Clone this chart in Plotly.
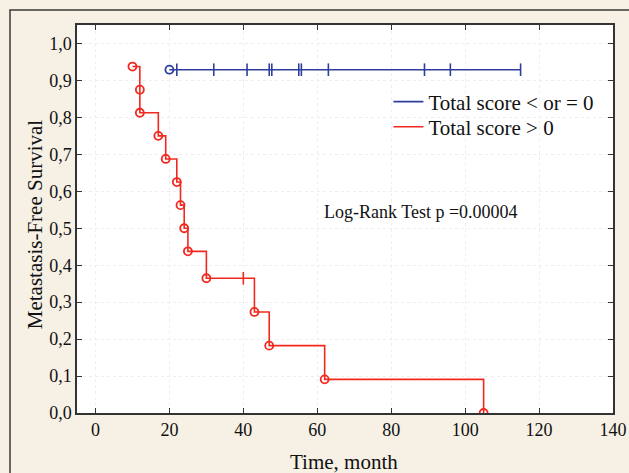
import plotly.graph_objects as go

# Red group (Total score > 0): step curve
red_t = [10, 12, 12, 17, 19, 22, 23, 24, 25, 30, 40, 43, 47, 62, 105]
red_s = [0.9375, 0.875, 0.8125, 0.75, 0.6875, 0.625, 0.5625, 0.5, 0.4375, 0.3646, 0.3646, 0.2734, 0.1823, 0.0911, 0.0]
red_event_t = [10, 12, 12, 17, 19, 22, 23, 24, 25, 30, 43, 47, 62, 105]
red_event_s = [0.9375, 0.875, 0.8125, 0.75, 0.6875, 0.625, 0.5625, 0.5, 0.4375, 0.3646, 0.2734, 0.1823, 0.0911, 0.0]
red_cens_t = [40]
red_cens_s = [0.3646]

# Blue group (Total score < or = 0)
blue_t = [20, 115]
blue_s = [0.929, 0.929]
blue_event_t = [20]
blue_event_s = [0.929]
blue_cens_t = [22, 32, 41, 47, 47.7, 55, 55.7, 63, 89, 96, 115]
blue_cens_s = [0.929] * len(blue_cens_t)

x_ticks = [0, 20, 40, 60, 80, 100, 120, 140]
y_ticks = [0.0, 0.1, 0.2, 0.3, 0.4, 0.5, 0.6, 0.7, 0.8, 0.9, 1.0]
y_ticktext = ["0,0", "0,1", "0,2", "0,3", "0,4", "0,5", "0,6", "0,7", "0,8", "0,9", "1,0"]

BLUE = "#2d3e9c"
RED = "#f2281f"
FONT = "Liberation Serif"

fig = go.Figure()

fig.add_trace(go.Scatter(x=blue_t, y=blue_s, mode="lines", line=dict(color=BLUE, width=1.6, shape="hv"),
                         name="Total score < or = 0", showlegend=True, legend="legend"))
fig.add_trace(go.Scatter(x=red_t, y=red_s, mode="lines", line=dict(color=RED, width=1.6, shape="hv"),
                         name="Total score > 0", showlegend=True, legend="legend2"))
fig.add_trace(go.Scatter(x=blue_event_t, y=blue_event_s, mode="markers",
                         marker=dict(symbol="circle-open", size=8, color=BLUE, line=dict(width=1.8)),
                         showlegend=False))
fig.add_trace(go.Scatter(x=blue_cens_t, y=blue_cens_s, mode="markers",
                         marker=dict(symbol="line-ns", size=9, color=BLUE, line=dict(width=1.6, color=BLUE)),
                         showlegend=False))
fig.add_trace(go.Scatter(x=red_event_t, y=red_event_s, mode="markers",
                         marker=dict(symbol="circle-open", size=8, color=RED, line=dict(width=1.8)),
                         showlegend=False))
fig.add_trace(go.Scatter(x=red_cens_t, y=red_cens_s, mode="markers",
                         marker=dict(symbol="line-ns", size=9, color=RED, line=dict(width=1.6, color=RED)),
                         showlegend=False))

fig.add_annotation(x=61.4, y=0.543, xref="x", yref="y", text="Log-Rank Test p =0.00004",
                   showarrow=False, xanchor="left", yanchor="middle",
                   font=dict(family=FONT, size=18, color="#111"))

# axis titles
fig.add_annotation(x=0.498, y=-0.126, xref="paper", yref="paper", text="Time, month",
                   showarrow=False, xanchor="center", yanchor="middle",
                   font=dict(family=FONT, size=21, color="#111"))
fig.add_annotation(x=-0.078, y=0.487, xref="paper", yref="paper", text="Metastasis-Free Survival",
                   showarrow=False, xanchor="center", yanchor="middle", textangle=-90,
                   font=dict(family=FONT, size=21, color="#111"))

# outer frame
fig.add_shape(type="rect", xref="paper", yref="paper", x0=-0.125, x1=1.2, y0=-0.3, y1=1.0387,
              line=dict(color="#3a3a3a", width=1.5), fillcolor="rgba(0,0,0,0)", layer="below")

axis_common = dict(showline=True, linecolor="#333", linewidth=1.5, mirror="ticks",
                   ticks="inside", ticklen=5, tickcolor="#333", tickwidth=1,
                   showgrid=True, gridcolor="#eeeeee", griddash="dot", gridwidth=1,
                   zeroline=False, automargin=False,
                   tickfont=dict(family=FONT, size=18, color="#111"))

fig.update_xaxes(range=[-5, 140], tickvals=x_ticks, ticktext=[str(v) for v in x_ticks], **axis_common)
fig.update_yaxes(range=[0, 1.05], tickvals=y_ticks, ticktext=y_ticktext, **axis_common)

leg_common = dict(xanchor="left", yanchor="middle", bgcolor="rgba(0,0,0,0)",
                  font=dict(family=FONT, size=21, color="#111"), itemwidth=30)

fig.update_layout(
    width=629, height=473,
    margin=dict(l=77, r=16, t=25, b=60),
    paper_bgcolor="#f6f0e5", plot_bgcolor="#ffffff",
    showlegend=True,
    legend=dict(x=0.581, y=0.8015, **leg_common),
    legend2=dict(x=0.581, y=0.737, **leg_common),
    font=dict(family=FONT),
)

fig.write_html("out.html", config={"displayModeBar": False},
               post_script="document.body.style.margin='0px';")
